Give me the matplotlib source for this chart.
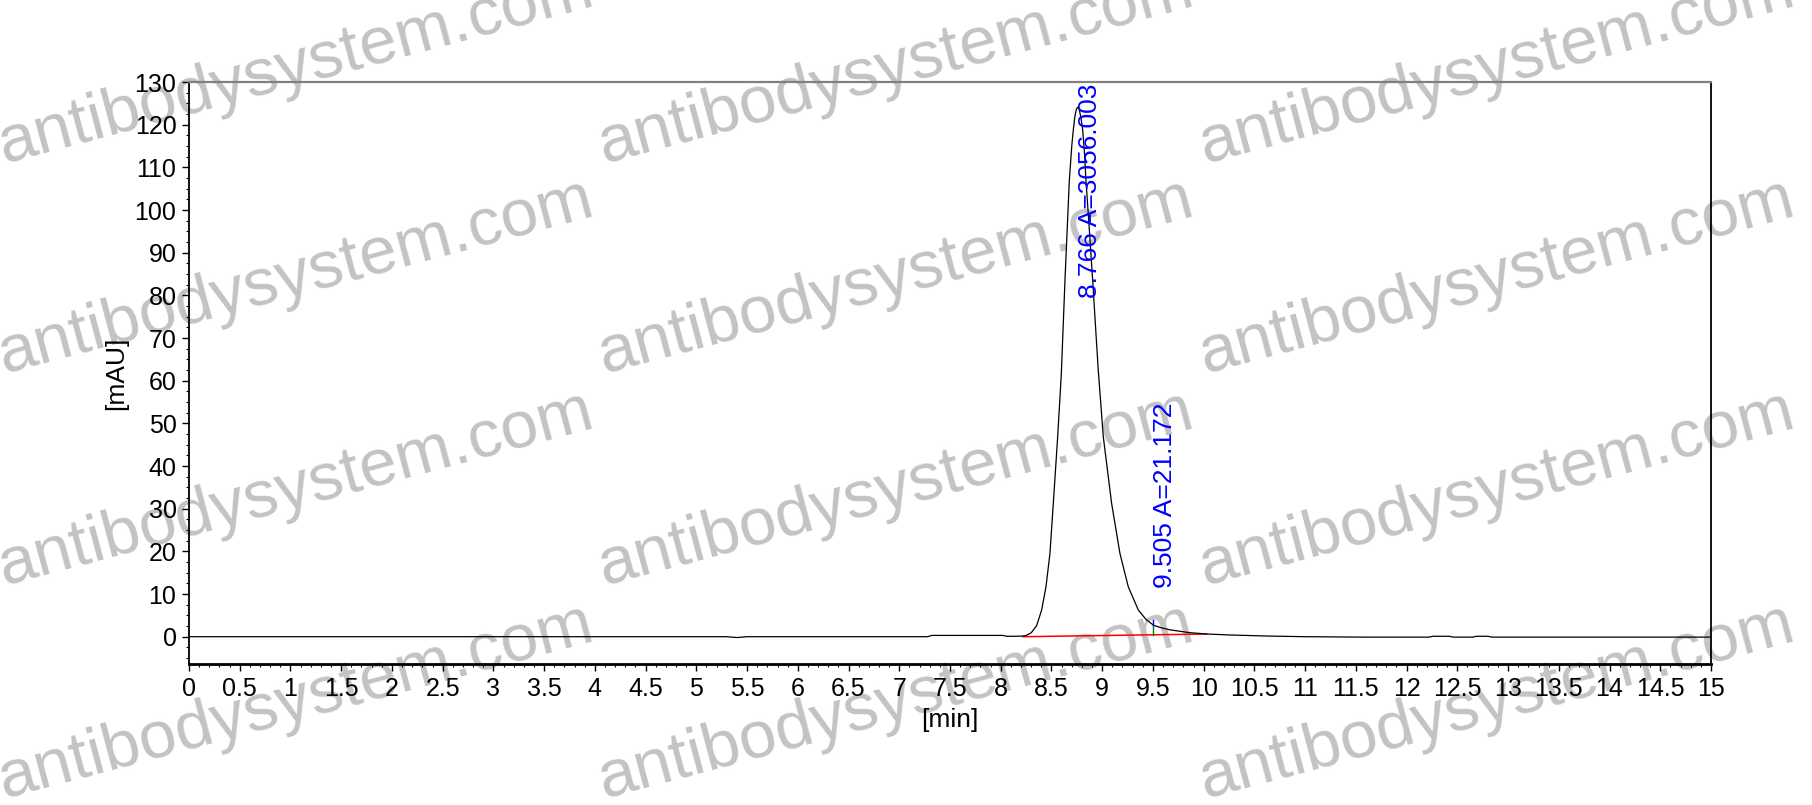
import numpy as np
import matplotlib.pyplot as plt
from matplotlib.ticker import MultipleLocator, FormatStrFormatter

plt.rcParams['font.family'] = ['Liberation Sans', 'DejaVu Sans']

# chromatogram trace
time_min = [0.0, 5.30, 5.40, 5.50, 7.28, 7.32, 8.02, 8.06, 8.15, 8.22, 8.25, 8.30,
            8.354, 8.403, 8.446, 8.485, 8.518, 8.561, 8.597, 8.633, 8.676, 8.700,
            8.715, 8.730, 8.745, 8.758, 8.772, 8.790, 8.808, 8.825, 8.840, 8.873,
            8.906, 8.961, 9.011, 9.093, 9.175, 9.257, 9.356, 9.430, 9.505, 9.580,
            9.670, 9.860, 10.03, 10.26, 10.63, 11.00, 11.56, 12.22, 12.26, 12.42,
            12.46, 12.65, 12.69, 12.80, 12.84, 15.0]
signal_mau = [0.0, 0.0, -0.2, 0.0, 0.0, 0.3, 0.3, 0.1, 0.1, 0.15, 0.3, 0.9,
              2.6, 6.25, 11.7, 19.5, 31.2, 46.8, 61.5, 83.5, 106.9, 115.0,
              118.7, 121.8, 123.6, 124.1, 123.7, 121.7, 118.7, 113.5, 106.9, 95.5,
              83.5, 62.5, 46.8, 31.2, 19.5, 11.7, 6.25, 4.1, 2.7, 2.1,
              1.6, 0.95, 0.63, 0.4, 0.15, 0.0, -0.1, -0.1, 0.1, 0.1,
              -0.1, -0.1, 0.1, 0.1, -0.1, -0.1]

# integration baseline and peak labels
baseline_t = [8.22, 10.03]
baseline_v = [0.0, 0.63]
peak_rt = [8.766, 9.505]
peak_area = [3056.003, 21.172]

fig = plt.figure(figsize=(18.12, 8.05), dpi=100)
ax = fig.add_axes([189 / 1812, 1 - 664 / 805, 1522 / 1812, 582 / 805])
ax.set_facecolor('none')
ax.set_zorder(1)

ax.plot(time_min, signal_mau, color='black', lw=0.9, zorder=3)
ax.plot(baseline_t, baseline_v, color='red', lw=1.1, zorder=2)

# split marker at the second peak
b_at = np.interp(peak_rt[1], baseline_t, baseline_v)
s_at = np.interp(peak_rt[1], time_min, signal_mau)
ax.plot([peak_rt[1], peak_rt[1]], [b_at, s_at], color='green', lw=1.0, zorder=4)
ax.plot([peak_rt[1], peak_rt[1]], [s_at, s_at + 1.3], color='blue', lw=1.0, zorder=4)

ax.text(peak_rt[0], 129.7, f'{peak_rt[0]:.3f} A={peak_area[0]:.3f}', color='blue',
        rotation=90, ha='left', va='top', fontsize=19, zorder=5)
ax.text(peak_rt[1], 11.4, f'{peak_rt[1]:.3f} A={peak_area[1]:.3f}', color='blue',
        rotation=90, ha='left', va='bottom', fontsize=19, zorder=5)

ax.set_xlim(0, 15)
ax.set_ylim(-6.4, 130)
ax.xaxis.set_major_locator(MultipleLocator(0.5))
ax.xaxis.set_minor_locator(MultipleLocator(0.1))
ax.xaxis.set_major_formatter(FormatStrFormatter('%g'))
ax.yaxis.set_major_locator(MultipleLocator(10))
ax.yaxis.set_minor_locator(MultipleLocator(2.5))
ax.tick_params(which='major', direction='out', length=5, width=1, labelsize=18, pad=4)
ax.tick_params(which='minor', direction='out', length=2.5, width=0.8)

for side in ['left', 'right']:
    ax.spines[side].set_linewidth(1.3)
ax.spines['bottom'].set_linewidth(2)
ax.spines['top'].set_color('#808080')
ax.spines['top'].set_linewidth(1.6)

ax.set_xlabel('[min]', fontsize=19, va='center')
ax.xaxis.set_label_coords(0.5, -0.096)
ax.set_ylabel('[mAU]', fontsize=19, va='center')
ax.yaxis.set_label_coords(-0.048, 0.5)

# watermark grid
wm_x = [296, 896, 1497]
wm_y = [68, 278, 490, 703]
for yy in wm_y:
    for xx in wm_x:
        fig.text(xx / 1812, 1 - yy / 805, 'antibodysystem.com', fontsize=48.5,
                 color='#c3c3c3', rotation=15, ha='center', va='center',
                 rotation_mode='anchor', zorder=0)

fig.savefig('out.png', dpi=100)
